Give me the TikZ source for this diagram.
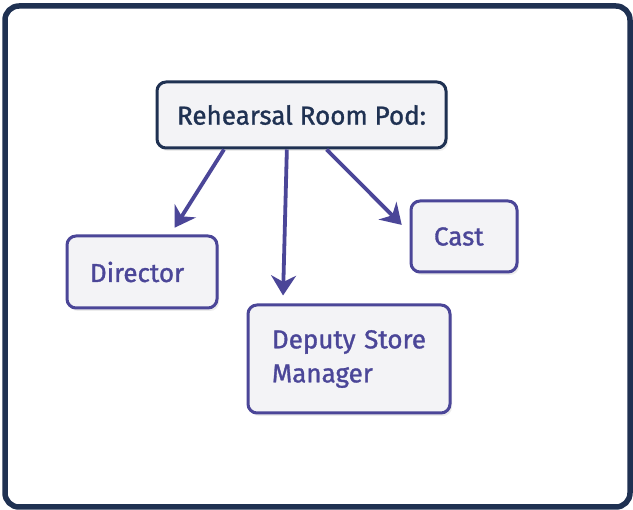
\documentclass[tikz,border=0pt]{standalone}
\usepackage{fontspec}
\setmainfont{Fira Sans}[FakeBold=1.2]
\usetikzlibrary{arrows.meta}
\usetikzlibrary{shadows}

\definecolor{podnavy}{HTML}{1F3152}
\definecolor{podblue}{HTML}{4B4698}
\definecolor{podfill}{HTML}{F3F3F6}

\begin{document}
\begin{tikzpicture}[x=1pt,y=-1pt,
  rootbox/.style={draw=podnavy, line width=3pt, fill=podfill, rounded corners=9pt,
    text=podnavy, font=\fontsize{26}{30}\selectfont,
    drop shadow={opacity=0.15, shadow xshift=2pt, shadow yshift=-3pt}},
  memberbox/.style={draw=podblue, line width=3pt, fill=podfill, rounded corners=9pt,
    text=podblue, font=\fontsize{26}{34}\selectfont, align=left,
    drop shadow={opacity=0.15, shadow xshift=2pt, shadow yshift=-3pt}},
  link/.style={podblue, line width=3.8pt, -{Stealth[length=20pt,width=25pt]}, shorten >=8pt}]

\useasboundingbox (0,0) rectangle (633,510);
\draw[podnavy, line width=5.5pt, rounded corners=14pt, fill=white] (5,6) rectangle (630,507);

% the pod and its members
\node[rootbox, minimum width=289pt, minimum height=66pt] (root) at (301.5,115) {Rehearsal Room Pod:};
\node[memberbox, minimum width=150pt, minimum height=72pt, text width=104pt] (director) at (142,272) {Director};
\node[memberbox, minimum width=202pt, minimum height=108pt, text width=154pt] (deputy) at (349,359) {Deputy Store\\Manager};
\node[memberbox, minimum width=106pt, minimum height=71pt, text width=60pt] (cast) at (464,236.5) {Cast};

\draw[link] (root.-156) -- (director.53);
\draw[link] (root.-113) -- (deputy.140);
\draw[link, shorten >=11pt] (root.-54) -- (cast.176);

\end{tikzpicture}
\end{document}
